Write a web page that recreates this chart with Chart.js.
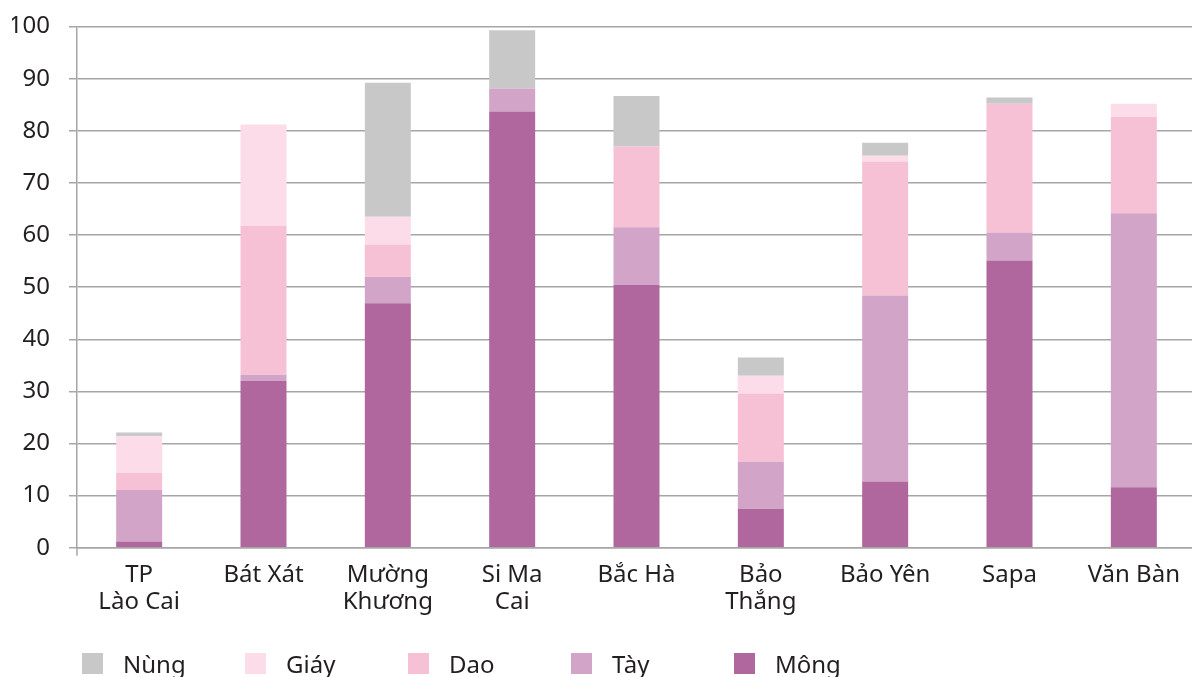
<!DOCTYPE html>
<html>
<head>
<meta charset="utf-8">
<script src="https://cdn.jsdelivr.net/npm/chart.js@4"></script>
<style>
  html, body { margin: 0; padding: 0; background: #ffffff; overflow: hidden; width: 1192px; height: 677px; }
  #wrap { position: relative; width: 1200px; height: 683px; margin-top: -6px; }
  #legend { position: absolute; left: 82px; top: 653px; display: flex; font-family: "Noto Sans", sans-serif; font-size: 24px; color: #231f20; }
  .item { width: 163px; display: flex; align-items: center; }
  .box { width: 21px; height: 21px; margin-right: 20px; }
</style>
</head>
<body>
<div id="wrap">
  <canvas id="c" width="1200" height="683"></canvas>
  <div id="legend"></div>
</div>
<script>
// Categories (districts)
const categories = [["TP", "Lào Cai"], "Bát Xát", ["Mường", "Khương"], ["Si Ma", "Cai"], "Bắc Hà", ["Bảo", "Thắng"], "Bảo Yên", "Sapa", "Văn Bàn"];

// Series values (%)
const mong = [1.2, 32.0, 46.9, 83.7, 50.4, 7.5, 12.7, 55.1, 11.6];
const tay  = [9.9, 1.2, 5.1, 4.4, 11.1, 9.0, 35.7, 5.4, 52.6];
const dao  = [3.3, 28.6, 6.2, 0, 15.5, 13.1, 25.7, 24.7, 18.5];
const giay = [7.0, 19.4, 5.3, 0, 0, 3.4, 1.1, 0, 2.5];
const nung = [0.7, 0, 25.7, 11.2, 9.7, 3.5, 2.5, 1.2, 0];

const seriesNames = ["Mông", "Tày", "Dao", "Giáy", "Nùng"];
const seriesData = [mong, tay, dao, giay, nung];
const seriesColors = ["#af679d", "#d2a4c7", "#f7c1d5", "#fcdce8", "#c8c8c8"];

// Y ticks
const yMin = 0, yMax = 100, yStep = 10;

const FONT = { family: "'Noto Sans', sans-serif", size: 24, lineHeight: 1.13 };
const TEXT = "#231f20";
const GRID = "#a6a6a6";

const datasets = seriesNames.map((n, i) => ({
  label: n,
  data: seriesData[i],
  backgroundColor: seriesColors[i],
  borderWidth: 0,
  barPercentage: 0.37,
  categoryPercentage: 1.0
}));

const axisTick = {
  id: 'axisTick',
  afterDraw(chart) {
    const ctx = chart.ctx, a = chart.chartArea;
    ctx.save();
    ctx.strokeStyle = GRID;
    ctx.lineWidth = 1.5;
    ctx.beginPath();
    ctx.moveTo(a.left, a.bottom);
    ctx.lineTo(a.left, a.bottom + 8);
    ctx.stroke();
    ctx.restore();
  }
};

new Chart(document.getElementById('c'), {
  type: 'bar',
  data: { labels: categories, datasets },
  options: {
    responsive: false,
    animation: false,
    layout: { padding: { top: 0, left: 12, right: 4, bottom: 55 } },
    plugins: { legend: { display: false }, tooltip: { enabled: false } },
    scales: {
      x: {
        stacked: true,
        grid: { display: false },
        border: { display: true, color: GRID, width: 1.5 },
        ticks: { font: FONT, color: TEXT, padding: 6, maxRotation: 0, autoSkip: false }
      },
      y: {
        stacked: true,
        min: yMin, max: yMax,
        afterFit(scale) { scale.width = 65; },
        grid: { color: GRID, lineWidth: 1.5, tickLength: 8, drawTicks: true },
        border: { display: true, color: GRID, width: 1.5 },
        ticks: { stepSize: yStep, font: FONT, color: TEXT, padding: 19 }
      }
    }
  },
  plugins: [axisTick]
});

const legend = document.getElementById('legend');
for (let i = seriesNames.length - 1; i >= 0; i--) {
  const it = document.createElement('div');
  it.className = 'item';
  const b = document.createElement('div');
  b.className = 'box';
  b.style.background = seriesColors[i];
  const t = document.createElement('span');
  t.textContent = seriesNames[i];
  it.appendChild(b); it.appendChild(t);
  legend.appendChild(it);
}
</script>
</body>
</html>
